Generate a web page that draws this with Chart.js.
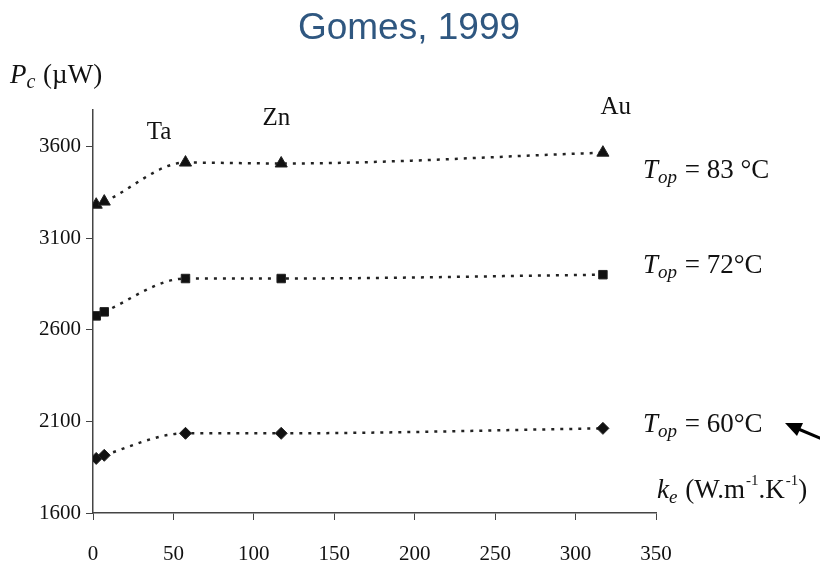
<!DOCTYPE html>
<html>
<head>
<meta charset="utf-8">
<script src="https://cdn.jsdelivr.net/npm/chart.js@4/dist/chart.umd.min.js"></script>
<style>
  html, body { margin: 0; padding: 0; background: #fff; }
  #wrap { width: 820px; height: 568px; }
</style>
</head>
<body>
<div id="wrap"><canvas id="chart" width="820" height="568"></canvas></div>
<script>
// thermal conductivity of the electrode material (W/m.K)
const conductivity = [2, 7, 57.5, 117, 317];
// collected power (µW) per operating temperature
const power83 = [3283, 3300, 3513, 3508, 3567];
const power72 = [2676, 2698, 2880, 2880, 2901];
const power60 = [1898, 1915, 2035, 2035, 2062];
const yTicks = [1600, 2100, 2600, 3100, 3600];
// material labels: [name, k value, P value]
const materials = [["Ta", 41, 3680], ["Zn", 114, 3755], ["Au", 325, 3815]];

const SERIF = "'Liberation Serif', 'DejaVu Serif', serif";
const INK = "#111";

function toPoints(ys) {
    return conductivity.map((x, i) => ({ x: x, y: ys[i] }));
}

function series(label, ys, style, radius) {
    return {
        label: label,
        data: toPoints(ys),
        borderColor: "#222",
        backgroundColor: "#111",
        borderWidth: 2.5,
        borderDash: [3, 6],
        pointStyle: style,
        pointRadius: radius,
        pointBorderWidth: 1,
        tension: 0.35,
        cubicInterpolationMode: "monotone",
    };
}

// draws "T_op = ..." style text with italic subscript, returns end x
function drawSubLabel(ctx, x, y, main, sub, rest, size, subSize) {
    ctx.save();
    ctx.textBaseline = "alphabetic";
    ctx.textAlign = "left";
    ctx.fillStyle = INK;
    ctx.font = "italic " + size + "px " + SERIF;
    ctx.fillText(main, x, y);
    x += ctx.measureText(main).width;
    ctx.font = "italic " + subSize + "px " + SERIF;
    ctx.fillText(sub, x, y + 5);
    x += ctx.measureText(sub).width + 1;
    ctx.font = size + "px " + SERIF;
    ctx.fillText(rest, x, y);
    x += ctx.measureText(rest).width;
    ctx.restore();
    return x;
}

function drawText(ctx, text, x, y, font) {
    ctx.font = font;
    ctx.fillText(text, x, y);
    return x + ctx.measureText(text).width;
}

const annotations = {
    id: "annotations",
    afterDraw(chart) {
        const ctx = chart.ctx;
        const xs = chart.scales.x;
        const ys = chart.scales.y;

        // title
        ctx.save();
        ctx.fillStyle = "#2f5780";
        ctx.font = "37px 'Liberation Sans', Arial, sans-serif";
        ctx.textAlign = "center";
        ctx.textBaseline = "middle";
        ctx.fillText("Gomes, 1999", 409, 29);
        ctx.restore();

        // material names
        ctx.save();
        ctx.fillStyle = INK;
        ctx.font = "25px " + SERIF;
        ctx.textAlign = "center";
        ctx.textBaseline = "middle";
        materials.forEach(([name, k, p]) => {
            ctx.fillText(name, xs.getPixelForValue(k), ys.getPixelForValue(p));
        });
        ctx.restore();

        // axis titles
        drawSubLabel(ctx, 10, 83, "P", "c", " (\u00b5W)", 27, 20);
        ctx.save();
        ctx.fillStyle = INK;
        let kx = drawSubLabel(ctx, 657, 498, "k", "e", " (W.m", 27, 19);
        kx = drawText(ctx, "-1", kx + 1, 485, "15px " + SERIF);
        kx = drawText(ctx, ".K", kx, 498, "27px " + SERIF);
        kx = drawText(ctx, "-1", kx + 1, 485, "15px " + SERIF);
        drawText(ctx, ")", kx, 498, "27px " + SERIF);
        ctx.restore();

        // temperature labels
        drawSubLabel(ctx, 643, 178, "T", "op", " = 83 \u00b0C", 27, 19);
        drawSubLabel(ctx, 643, 273, "T", "op", " = 72\u00b0C", 27, 19);
        drawSubLabel(ctx, 643, 432, "T", "op", " = 60\u00b0C", 27, 19);

        // arrow pointing at the 60 °C label
        ctx.save();
        ctx.strokeStyle = "#000";
        ctx.fillStyle = "#000";
        ctx.lineWidth = 3;
        ctx.beginPath();
        ctx.moveTo(822, 439);
        ctx.lineTo(796, 428);
        ctx.stroke();
        ctx.beginPath();
        ctx.moveTo(785, 423);
        ctx.lineTo(803, 423);
        ctx.lineTo(797, 436);
        ctx.closePath();
        ctx.fill();
        ctx.restore();
    },
};

new Chart(document.getElementById("chart"), {
    type: "line",
    data: {
        datasets: [
            series("83 \u00b0C", power83, "triangle", 7),
            series("72 \u00b0C", power72, "rect", 6),
            series("60 \u00b0C", power60, "rectRot", 6),
        ],
    },
    options: {
        responsive: false,
        animation: false,
        layout: { padding: { left: 0, right: 164, top: 110, bottom: 0 } },
        plugins: {
            legend: { display: false },
            tooltip: { enabled: false },
        },
        scales: {
            x: {
                type: "linear",
                min: 0,
                max: 350,
                afterFit(scale) { scale.height = 55; },
                border: { display: true, color: "#444", width: 1.5 },
                grid: { drawOnChartArea: false, tickLength: 7, color: "#444" },
                ticks: {
                    stepSize: 50,
                    color: INK,
                    padding: 22,
                    maxRotation: 0,
                    font: { family: SERIF, size: 21 },
                    callback: (v) => String(v),
                },
            },
            y: {
                min: 1600,
                max: 3800,
                afterFit(scale) { scale.width = 93; },
                afterBuildTicks(scale) {
                    scale.ticks = yTicks.map((v) => ({ value: v }));
                },
                border: { display: true, color: "#444", width: 1.5 },
                grid: { drawOnChartArea: false, tickLength: 7, color: "#444" },
                ticks: {
                    color: INK,
                    padding: 5,
                    font: { family: SERIF, size: 21 },
                    callback: (v) => String(v),
                },
            },
        },
    },
    plugins: [annotations],
});
</script>
</body>
</html>
